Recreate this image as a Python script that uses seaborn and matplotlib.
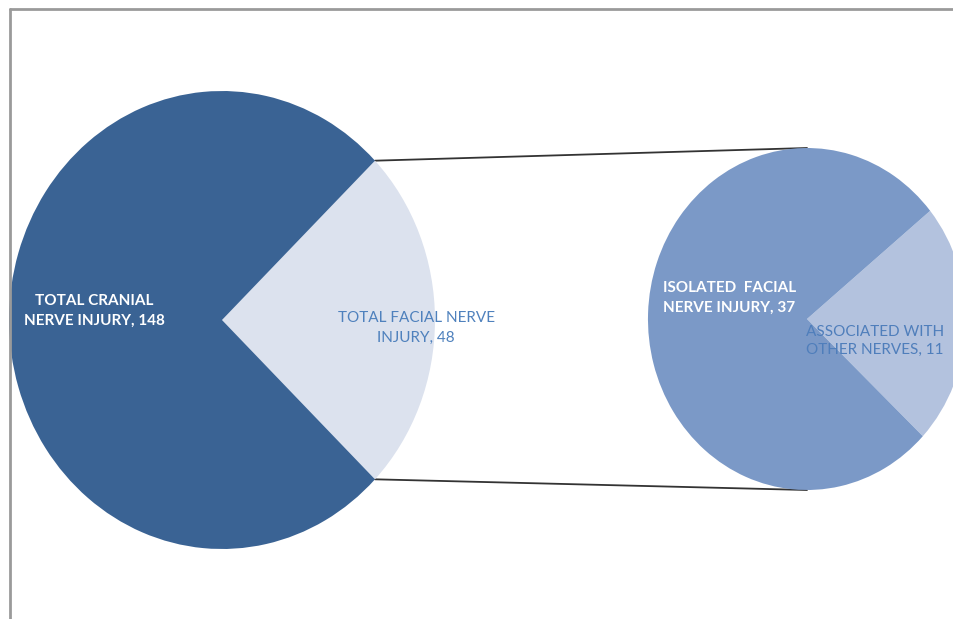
import numpy as np
import matplotlib
matplotlib.use("Agg")
import matplotlib.pyplot as plt
from matplotlib.lines import Line2D
import seaborn as sns

# ---- data ----
main_labels = ["TOTAL FACIAL NERVE\nINJURY, 48", "TOTAL CRANIAL\nNERVE INJURY, 148"]
main_values = [48, 148]
sub_labels = ["ASSOCIATED WITH\nOTHER NERVES, 11", "ISOLATED  FACIAL\nNERVE INJURY, 37"]
sub_values = [11, 37]

sns.set_theme(style="white")
plt.rcParams['font.family'] = ['Lato', 'DejaVu Sans']

W, H = 954, 619
fig = plt.figure(figsize=(W / 100, H / 100), dpi=100)
ax = fig.add_axes([0, 0, 1, 1])
XS = 0.93  # horizontal squeeze of the ellipses (pixels per x unit)

def px(x, y):
    return x / XS, H - y

main_colors = ["#DCE2EE", "#3A6394"]
sub_colors = ["#B3C2DE", "#7B99C7"]

c1 = px(222, 320)
r1 = 229
c2 = px(807, 319)
r2 = 171

sa1 = -main_values[0] / sum(main_values) * 180
ax.pie(main_values, colors=main_colors, startangle=sa1, center=c1, radius=r1,
       counterclock=True, wedgeprops=dict(linewidth=0), frame=True)
sa2 = -sub_values[0] / sum(sub_values) * 180 - 2
ax.pie(sub_values, colors=sub_colors, startangle=sa2, center=c2, radius=r2,
       counterclock=True, wedgeprops=dict(linewidth=0), frame=True)

ax.set_xlim(0, W / XS)
ax.set_ylim(0, H)
ax.set_aspect('auto')
ax.axis('off')

# connector lines from main pie's small slice edges to top/bottom of sub pie
a = np.deg2rad(sa1 + main_values[0] / sum(main_values) * 360)
b = np.deg2rad(sa1)
p_top = (c1[0] + r1 * np.cos(a), c1[1] + r1 * np.sin(a))
p_bot = (c1[0] + r1 * np.cos(b), c1[1] + r1 * np.sin(b))
ax.plot([p_top[0], c2[0]], [p_top[1], c2[1] + r2], color="#333333", lw=1.3, zorder=0)
ax.plot([p_bot[0], c2[0]], [p_bot[1], c2[1] - r2], color="#333333", lw=1.3, zorder=0)

# labels
ax.text(*px(94, 311), main_labels[1], color="white", fontsize=11, fontweight="bold",
        ha="center", va="center", linespacing=1.5)
ax.text(*px(416, 328), main_labels[0], color="#4F81BD", fontsize=11,
        ha="center", va="center", linespacing=1.5)
ax.text(*px(663, 298), sub_labels[1], color="white", fontsize=11, fontweight="bold",
        ha="left", va="center", linespacing=1.5)
ax.text(*px(875, 341), sub_labels[0], color="#4F7EBB", fontsize=11,
        ha="center", va="center", linespacing=1.4)

# frame lines (top and left)
fig.add_artist(Line2D([10 / W, 1], [1 - 9 / H, 1 - 9 / H], transform=fig.transFigure,
                      color="#9A9A9A", lw=2))
fig.add_artist(Line2D([10 / W, 10 / W], [0, 1 - 9 / H], transform=fig.transFigure,
                      color="#9A9A9A", lw=2))

fig.savefig("out.png", dpi=100)
